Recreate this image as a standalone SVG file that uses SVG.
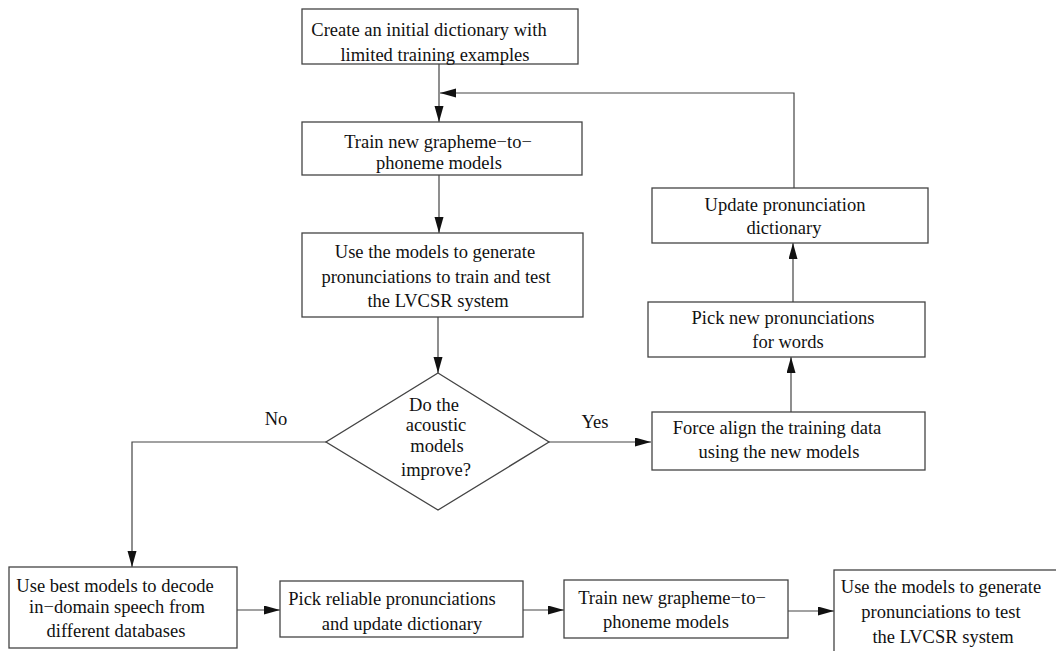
<svg xmlns="http://www.w3.org/2000/svg" width="1056" height="651" viewBox="0 0 1056 651">
<style>
.box{fill:#fff;stroke:#444;stroke-width:1.3}
.t{font-family:"Liberation Serif","Times New Roman",serif;font-size:18.5px;fill:#111;text-anchor:middle}
.c{fill:none;stroke:#444;stroke-width:1.2}
</style>
<defs>
<marker id="ah" markerUnits="userSpaceOnUse" markerWidth="16" markerHeight="10" refX="16" refY="4.5" orient="auto">
<path d="M0,0 L16,4.5 L0,9 z" fill="#111"/>
</marker>
</defs>
<rect width="1056" height="651" fill="#fff"/>
<g id="connectors">
<line class="c" x1="439" y1="64" x2="439" y2="122" marker-end="url(#ah)"/>
<polyline class="c" points="794,188 794,93 440,93" marker-end="url(#ah)"/>
<line class="c" x1="439" y1="175" x2="439" y2="233" marker-end="url(#ah)"/>
<line class="c" x1="438" y1="317" x2="438" y2="373" marker-end="url(#ah)"/>
<line class="c" x1="549" y1="442" x2="651" y2="442" marker-end="url(#ah)"/>
<line class="c" x1="791" y1="412" x2="791" y2="357" marker-end="url(#ah)"/>
<line class="c" x1="793" y1="302" x2="793" y2="243" marker-end="url(#ah)"/>
<polyline class="c" points="326,442 132,442 132,567" marker-end="url(#ah)"/>
<line class="c" x1="237" y1="610" x2="280" y2="610" marker-end="url(#ah)"/>
<line class="c" x1="523" y1="610" x2="564" y2="610" marker-end="url(#ah)"/>
<line class="c" x1="788" y1="611" x2="834" y2="611" marker-end="url(#ah)"/>
<text class="t" x="595" y="428">Yes</text>
<text class="t" x="276" y="425">No</text>
</g>
<g id="n1">
<rect class="box" x="302" y="9" width="276" height="55"/>
<text class="t" x="429" y="36">Create an initial dictionary with</text>
<text class="t" x="435" y="61">limited training examples</text>
</g>
<g id="n2">
<rect class="box" x="302" y="122" width="280" height="53"/>
<text class="t" x="438" y="148">Train new grapheme−to−</text>
<text class="t" x="439" y="169">phoneme models</text>
</g>
<g id="n3">
<rect class="box" x="302" y="233" width="281" height="84"/>
<text class="t" x="435" y="258">Use the models to generate</text>
<text class="t" x="436" y="283">pronunciations to train and test</text>
<text class="t" x="438" y="307">the LVCSR system</text>
</g>
<g id="n4">
<polygon class="box" points="438,373 549,442 438,510 326,442"/>
<text class="t" x="434" y="411">Do the</text>
<text class="t" x="436" y="431">acoustic</text>
<text class="t" x="437" y="452">models</text>
<text class="t" x="436" y="476">improve?</text>
</g>
<g id="n5">
<rect class="box" x="652" y="412" width="273" height="58"/>
<text class="t" x="777" y="434">Force align the training data</text>
<text class="t" x="779" y="458">using the new models</text>
</g>
<g id="n6">
<rect class="box" x="648" y="302" width="277" height="55"/>
<text class="t" x="783" y="324">Pick new pronunciations</text>
<text class="t" x="788" y="348">for words</text>
</g>
<g id="n7">
<rect class="box" x="652" y="188" width="276" height="55"/>
<text class="t" x="785" y="211">Update pronunciation</text>
<text class="t" x="784" y="234">dictionary</text>
</g>
<g id="n8">
<rect class="box" x="9" y="567" width="228" height="81"/>
<text class="t" x="115" y="592">Use best models to decode</text>
<text class="t" x="117" y="613">in−domain speech from</text>
<text class="t" x="116" y="637">different databases</text>
</g>
<g id="n9">
<rect class="box" x="280" y="581" width="243" height="56"/>
<text class="t" x="392" y="605">Pick reliable pronunciations</text>
<text class="t" x="402" y="630">and update dictionary</text>
</g>
<g id="n10">
<rect class="box" x="564" y="580" width="224" height="58"/>
<text class="t" x="672" y="604">Train new grapheme−to−</text>
<text class="t" x="666" y="628">phoneme models</text>
</g>
<g id="n11">
<rect class="box" x="834" y="570" width="240" height="100"/>
<text class="t" x="941" y="593">Use the models to generate</text>
<text class="t" x="941" y="618">pronunciations to test</text>
<text class="t" x="943" y="643">the LVCSR system</text>
</g>
</svg>
